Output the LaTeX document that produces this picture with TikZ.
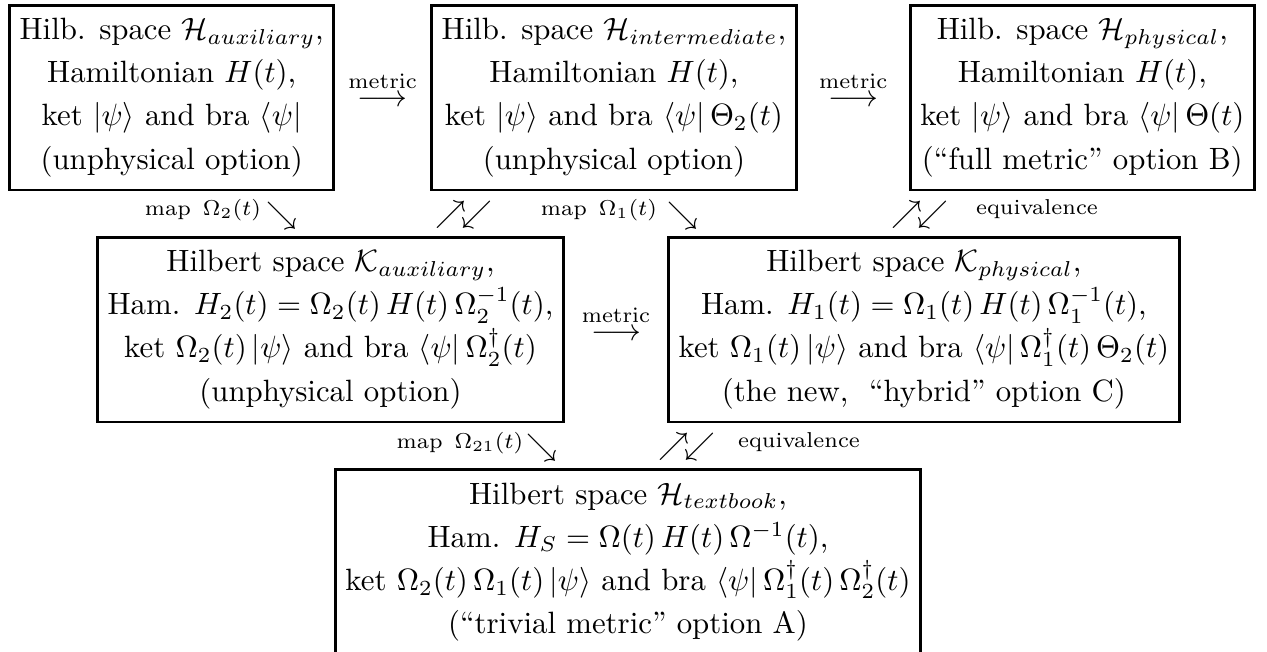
\documentclass[tikz,border=0pt]{standalone}
\usetikzlibrary{calc}
\begin{document}
\begin{tikzpicture}[x=0.3245pt,y=-0.3245pt,
  box/.style={draw,line width=0.95pt,align=center,inner xsep=3.3pt,inner ysep=0pt,
    minimum height=60pt,font=\fontsize{10}{14}\selectfont},
  glyph/.style={inner sep=0pt,font=\fontsize{10}{12}\selectfont},
  lbl/.style={inner sep=0pt,font=\fontsize{7}{8.5}\selectfont}]
\useasboundingbox (0,0) rectangle (1267,651);
\node[box,anchor=west] (haux) at (8,97.5) {Hilb. space $\mathcal{H}_{auxiliary}$,\\ Hamiltonian $H(t)$,\\ ket $|\psi\rangle$ and bra $\langle\psi|$\\ (unphysical option)};
\node[box,anchor=west] (hint) at (430,97.5) {Hilb. space $\mathcal{H}_{intermediate}$,\\ Hamiltonian $H(t)$,\\ ket $|\psi\rangle$ and bra $\langle\psi|\,\Theta_2(t)$\\ (unphysical option)};
\node[box,anchor=east] (hphys) at (1256,97.5) {Hilb. space $\mathcal{H}_{physical}$,\\ Hamiltonian $H(t)$,\\ ket $|\psi\rangle$ and bra $\langle\psi|\,\Theta(t)$\\ (``full metric'' option B)};
\node[box,anchor=east] (kaux) at (565,329.5) {Hilbert space $\mathcal{K}_{auxiliary}$,\\ Ham. $H_2(t)=\Omega_2(t)\,H(t)\,\Omega_2^{-1}(t)$,\\ ket $\Omega_2(t)\,|\psi\rangle$ and bra $\langle\psi|\,\Omega_2^\dagger(t)$\\ (unphysical option)};
\node[box,anchor=west] (kphys) at (667,329.5) {Hilbert space $\mathcal{K}_{physical}$,\\ Ham. $H_1(t)=\Omega_1(t)\,H(t)\,\Omega_1^{-1}(t)$,\\ ket $\Omega_1(t)\,|\psi\rangle$ and bra $\langle\psi|\,\Omega_1^\dagger(t)\,\Theta_2(t)$\\ (the new,~ ``hybrid'' option C)};
\node[box] (htext) at (628,562) {Hilbert space $\mathcal{H}_{textbook}$,\\ Ham. $H_S=\Omega(t)\,H(t)\,\Omega^{-1}(t)$,\\ ket $\Omega_2(t)\,\Omega_1(t)\,|\psi\rangle$ and bra $\langle\psi|\,\Omega_1^\dagger(t)\,\Omega_2^\dagger(t)$\\ (``trivial metric'' option A)};
% horizontal metric arrows
\node[glyph] (m1) at ($(haux.east)!0.5!(hint.west)+(0,-9)$) {$\stackrel{\mathrm{metric}}{\longrightarrow}$};
\node[glyph] (m2) at ($(hint.east)!0.5!(hphys.west)+(0,-9)$) {$\stackrel{\mathrm{metric}}{\longrightarrow}$};
\node[glyph] (m3) at ($(kaux.east)!0.5!(kphys.west)+(0,-7)$) {$\stackrel{\mathrm{metric}}{\longrightarrow}$};
% map arrows
\node[lbl] (l1) at (203,210) {map\ \,$\Omega_2(t)$};
\node[glyph] (s1) at (282,216) {$\searrow$};
\node[lbl] (l2) at (599,210) {map\ \,$\Omega_1(t)$};
\node[glyph] (s2) at (683,216) {$\searrow$};
\node[lbl] (l3) at (460,443) {map\ \,$\Omega_{21}(t)$};
\node[glyph] (s3) at (542,448) {$\searrow$};
% equivalence arrows
\node[glyph] (e1) at (464,215) {$\nearrow\!\swarrow$};
\node[glyph] (e2) at (920,215) {$\nearrow\!\swarrow$};
\node[lbl] (q2) at (1037,209) {equivalence};
\node[glyph] (e3) at (687,447) {$\nearrow\!\swarrow$};
\node[lbl] (q3) at (799,442) {equivalence};
\end{tikzpicture}
\end{document}
